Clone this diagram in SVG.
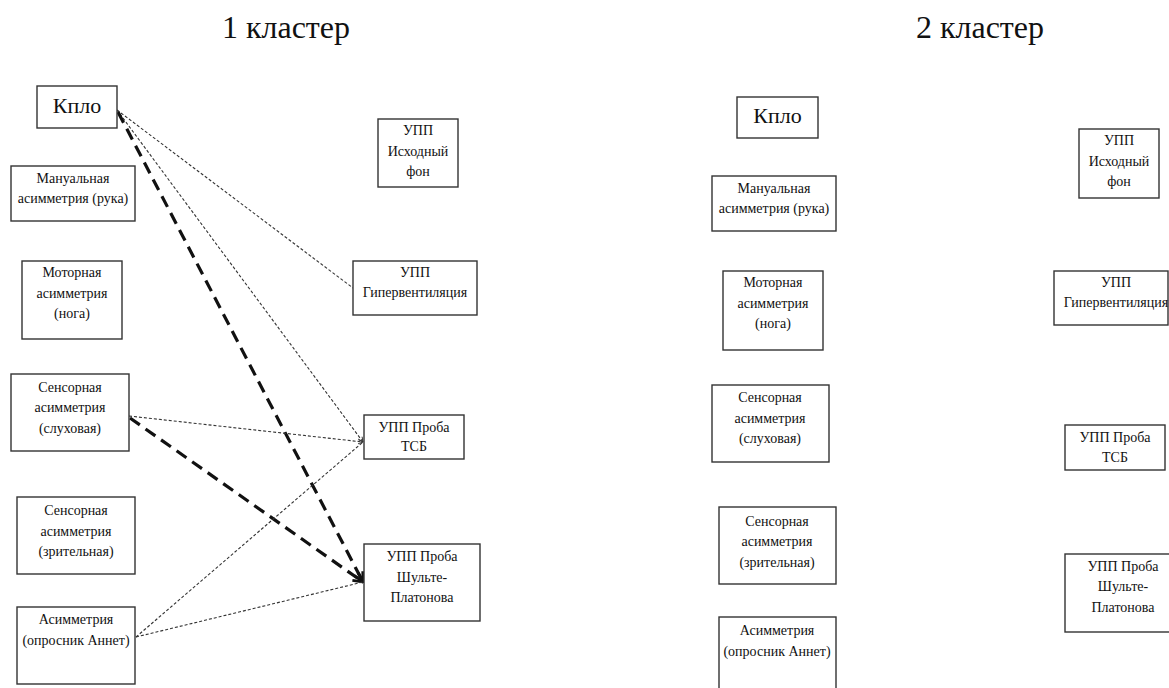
<svg xmlns="http://www.w3.org/2000/svg" width="1169" height="688" viewBox="0 0 1169 688">
  <defs>
    <style>
      .box { fill: #ffffff; stroke: #333; stroke-width: 1.4; }
      .lbl { font-family: "Liberation Serif", "Times New Roman", serif; font-size: 14px; fill: #111; text-anchor: middle; }
      .big { font-family: "Liberation Serif", "Times New Roman", serif; font-size: 22px; fill: #111; text-anchor: middle; }
      .title { font-family: "Liberation Serif", "Times New Roman", serif; font-size: 32px; fill: #111; text-anchor: middle; }
      .thin { fill: none; stroke: #333; stroke-width: 1.1; stroke-dasharray: 3 2; }
      .thick { fill: none; stroke: #111; stroke-width: 3.2; stroke-dasharray: 12 7; }
    </style>
    <marker id="arrowSmall" viewBox="0 0 10 10" refX="9" refY="5" markerWidth="6" markerHeight="6" orient="auto" markerUnits="userSpaceOnUse">
      <path d="M1,1 L9,5 L1,9" fill="none" stroke="#333" stroke-width="1.5"/>
    </marker>
    <marker id="arrowBig" viewBox="0 0 10 10" refX="9" refY="5" markerWidth="12" markerHeight="12" orient="auto" markerUnits="userSpaceOnUse">
      <path d="M1,1 L9,5 L1,9" fill="none" stroke="#111" stroke-width="2.4"/>
    </marker>
  </defs>

  <rect width="1169" height="688" fill="#ffffff"/>

  <!-- cluster headings -->
  <text class="title" x="286" y="38">1 кластер</text>
  <text class="title" x="980" y="38">2 кластер</text>

  <!-- cluster 1 connectors -->
  <g id="connectors-1">
    <line class="thin" x1="117" y1="110" x2="353" y2="288"/>
    <line class="thin" x1="117" y1="110" x2="363" y2="442" marker-end="url(#arrowSmall)"/>
    <line class="thick" x1="118" y1="112" x2="363" y2="582" marker-end="url(#arrowBig)"/>
    <line class="thin" x1="129" y1="416" x2="363" y2="442" marker-end="url(#arrowSmall)"/>
    <line class="thick" x1="130" y1="418" x2="363" y2="582" marker-end="url(#arrowBig)"/>
    <line class="thin" x1="136" y1="637" x2="363" y2="442"/>
    <line class="thin" x1="136" y1="637" x2="363" y2="582"/>
  </g>

  <!-- cluster 1 nodes -->
  <g id="c1-kplo">
    <rect class="box" x="37" y="86" width="80" height="42"/>
    <text class="big" x="77" y="113">Кпло</text>
  </g>
  <g id="c1-manual">
    <rect class="box" x="11" y="166" width="124" height="55"/>
    <text class="lbl" x="73" y="183">Мануальная</text>
    <text class="lbl" x="73" y="203">асимметрия (рука)</text>
  </g>
  <g id="c1-motor">
    <rect class="box" x="22" y="261" width="100" height="78"/>
    <text class="lbl" x="72" y="277">Моторная</text>
    <text class="lbl" x="72" y="298">асимметрия</text>
    <text class="lbl" x="72" y="318">(нога)</text>
  </g>
  <g id="c1-hearing">
    <rect class="box" x="11" y="374" width="118" height="77"/>
    <text class="lbl" x="70" y="392">Сенсорная</text>
    <text class="lbl" x="70" y="412">асимметрия</text>
    <text class="lbl" x="70" y="433">(слуховая)</text>
  </g>
  <g id="c1-visual">
    <rect class="box" x="17" y="497" width="118" height="77"/>
    <text class="lbl" x="76" y="515">Сенсорная</text>
    <text class="lbl" x="76" y="536">асимметрия</text>
    <text class="lbl" x="76" y="556">(зрительная)</text>
  </g>
  <g id="c1-annett">
    <rect class="box" x="17" y="607" width="118" height="77"/>
    <text class="lbl" x="76" y="624">Асимметрия</text>
    <text class="lbl" x="76" y="645">(опросник Аннет)</text>
  </g>
  <g id="c1-base">
    <rect class="box" x="378" y="119" width="80" height="68"/>
    <text class="lbl" x="418" y="135">УПП</text>
    <text class="lbl" x="418" y="156">Исходный</text>
    <text class="lbl" x="418" y="176">фон</text>
  </g>
  <g id="c1-hyper">
    <rect class="box" x="353" y="261" width="124" height="54"/>
    <text class="lbl" x="415" y="277">УПП</text>
    <text class="lbl" x="415" y="297">Гипервентиляция</text>
  </g>
  <g id="c1-tsb">
    <rect class="box" x="364" y="415" width="100" height="44"/>
    <text class="lbl" x="414" y="432">УПП Проба</text>
    <text class="lbl" x="414" y="451">ТСБ</text>
  </g>
  <g id="c1-schulte">
    <rect class="box" x="364" y="544" width="116" height="77"/>
    <text class="lbl" x="422" y="561">УПП Проба</text>
    <text class="lbl" x="422" y="582">Шульте-</text>
    <text class="lbl" x="422" y="602">Платонова</text>
  </g>

  <!-- cluster 2 nodes (no links) -->
  <g id="connectors-2"></g>
  <g id="c2-kplo">
    <rect class="box" x="737" y="97" width="81" height="41"/>
    <text class="big" x="777.5" y="123">Кпло</text>
  </g>
  <g id="c2-manual">
    <rect class="box" x="712" y="176" width="124" height="55"/>
    <text class="lbl" x="774" y="193">Мануальная</text>
    <text class="lbl" x="774" y="213">асимметрия (рука)</text>
  </g>
  <g id="c2-motor">
    <rect class="box" x="723" y="271" width="100" height="79"/>
    <text class="lbl" x="773" y="287">Моторная</text>
    <text class="lbl" x="773" y="308">асимметрия</text>
    <text class="lbl" x="773" y="328">(нога)</text>
  </g>
  <g id="c2-hearing">
    <rect class="box" x="712" y="385" width="117" height="77"/>
    <text class="lbl" x="770" y="402">Сенсорная</text>
    <text class="lbl" x="770" y="423">асимметрия</text>
    <text class="lbl" x="770" y="443">(слуховая)</text>
  </g>
  <g id="c2-visual">
    <rect class="box" x="719" y="507" width="117" height="77"/>
    <text class="lbl" x="777" y="526">Сенсорная</text>
    <text class="lbl" x="777" y="546">асимметрия</text>
    <text class="lbl" x="777" y="567">(зрительная)</text>
  </g>
  <g id="c2-annett">
    <rect class="box" x="719" y="617" width="117" height="80"/>
    <text class="lbl" x="777" y="635">Асимметрия</text>
    <text class="lbl" x="777" y="656">(опросник Аннет)</text>
  </g>
  <g id="c2-base">
    <rect class="box" x="1079" y="129" width="80" height="69"/>
    <text class="lbl" x="1119" y="145">УПП</text>
    <text class="lbl" x="1119" y="166">Исходный</text>
    <text class="lbl" x="1119" y="186">фон</text>
  </g>
  <g id="c2-hyper">
    <rect class="box" x="1054" y="271" width="114" height="54"/>
    <text class="lbl" x="1116" y="287">УПП</text>
    <text class="lbl" x="1116" y="307">Гипервентиляция</text>
  </g>
  <g id="c2-tsb">
    <rect class="box" x="1065" y="425" width="100" height="45"/>
    <text class="lbl" x="1115" y="442">УПП Проба</text>
    <text class="lbl" x="1115" y="462">ТСБ</text>
  </g>
  <g id="c2-schulte">
    <rect class="box" x="1065" y="554" width="116" height="78"/>
    <text class="lbl" x="1123" y="571">УПП Проба</text>
    <text class="lbl" x="1123" y="591">Шульте-</text>
    <text class="lbl" x="1123" y="612">Платонова</text>
  </g>
</svg>
